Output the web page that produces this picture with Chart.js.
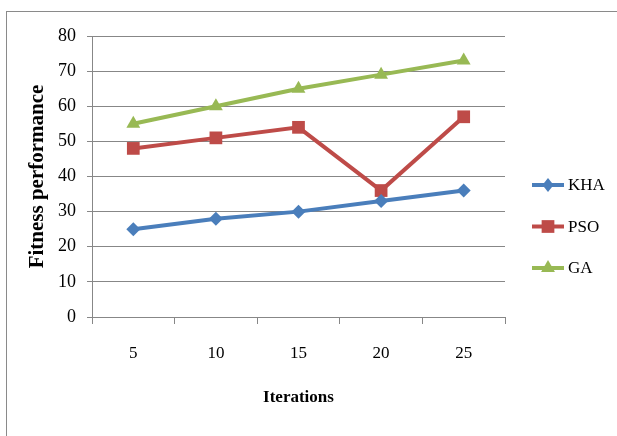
<!DOCTYPE html>
<html>
<head>
<meta charset="utf-8">
<script src="https://cdn.jsdelivr.net/npm/chart.js@4.4.1/dist/chart.umd.min.js"></script>
<style>
  html, body { margin: 0; padding: 0; background: #fff; }
  canvas { display: block; }
</style>
</head>
<body>
<canvas id="c" width="617" height="436"></canvas>
<script>
// Iteration counts on the x axis
const iterations = ['5', '10', '15', '20', '25'];
// Fitness performance per algorithm
const khaValues = [25, 28, 30, 33, 36];
const psoValues = [48, 51, 54, 36, 57];
const gaValues = [55, 60, 65, 69, 73];
// Y axis range and step
const yMin = 0, yMax = 80, yStep = 10;

const SERIF = '"Liberation Serif", "Times New Roman", serif';
const GRID = '#878787';

// white page with a thin grey frame around the figure
const framePlugin = {
  id: 'frame',
  beforeDraw(chart) {
    const ctx = chart.ctx;
    ctx.save();
    ctx.fillStyle = '#fff';
    ctx.fillRect(0, 0, chart.width, chart.height);
    ctx.strokeStyle = '#8a8a8a';
    ctx.lineWidth = 1;
    ctx.strokeRect(6.5, 11.5, chart.width + 20, chart.height + 20);
    ctx.restore();
  }
};

function drawMarker(ctx, style, x, y, r) {
  ctx.beginPath();
  if (style === 'rectRot') {
    ctx.moveTo(x, y - r);
    ctx.lineTo(x + r * 0.8, y);
    ctx.lineTo(x, y + r);
    ctx.lineTo(x - r * 0.8, y);
  } else if (style === 'rect') {
    const s = r * Math.SQRT1_2;
    ctx.rect(x - s, y - s, 2 * s, 2 * s);
  } else {
    const h = r * 1.5;
    ctx.moveTo(x, y - r);
    ctx.lineTo(x + r * 0.87, y + r * 0.5);
    ctx.lineTo(x - r * 0.87, y + r * 0.5);
  }
  ctx.closePath();
  ctx.fill();
}

// legend on the right: line sample with the series marker, then the name
const sideLegend = {
  id: 'sideLegend',
  afterDraw(chart) {
    const ctx = chart.ctx;
    const area = chart.chartArea;
    const x0 = area.right + 27, x1 = area.right + 59;
    ctx.save();
    chart.data.datasets.forEach((ds, i) => {
      const y = 185 + i * 41.5;
      ctx.strokeStyle = ds.borderColor;
      ctx.lineWidth = 4;
      ctx.beginPath();
      ctx.moveTo(x0, y);
      ctx.lineTo(x1, y);
      ctx.stroke();
      ctx.fillStyle = ds.backgroundColor;
      drawMarker(ctx, ds.pointStyle, (x0 + x1) / 2, y, ds.pointRadius);
      ctx.fillStyle = '#000';
      ctx.font = '17px ' + SERIF;
      ctx.textAlign = 'left';
      ctx.textBaseline = 'middle';
      ctx.fillText(ds.label, x1 + 4, y + 1);
    });
    ctx.restore();
  }
};

new Chart(document.getElementById('c'), {
  type: 'line',
  data: {
    labels: iterations,
    datasets: [
      { label: 'KHA', data: khaValues, borderColor: '#4a7ebb', backgroundColor: '#4a7ebb',
        pointStyle: 'rectRot', pointRadius: 7 },
      { label: 'PSO', data: psoValues, borderColor: '#be4b48', backgroundColor: '#be4b48',
        pointStyle: 'rect', pointRadius: 9 },
      { label: 'GA', data: gaValues, borderColor: '#98b954', backgroundColor: '#98b954',
        pointStyle: 'triangle', pointRadius: 8 }
    ].map(d => Object.assign({ borderWidth: 4, tension: 0, pointBorderWidth: 0,
                               pointHoverRadius: d.pointRadius }, d))
  },
  options: {
    responsive: false,
    animation: false,
    events: [],
    layout: { padding: { top: 36, right: 112, bottom: 0, left: 0 } },
    plugins: { legend: { display: false }, tooltip: { enabled: false } },
    scales: {
      x: {
        offset: true,
        grid: { display: true, offset: true, drawOnChartArea: false, drawTicks: true,
                tickLength: 7, color: GRID, lineWidth: 1 },
        border: { display: true, color: GRID, width: 1 },
        ticks: { color: '#000', font: { family: SERIF, size: 17 }, padding: 19 },
        title: { display: true, text: 'Iterations', color: '#000',
                 font: { family: SERIF, size: 17, weight: 'bold' },
                 padding: { top: 0, bottom: 28 } },
        afterFit(s) { s.height = 119; }
      },
      y: {
        min: yMin, max: yMax,
        grid: { color: GRID, lineWidth: 1, tickLength: 5 },
        border: { display: true, color: GRID, width: 1 },
        ticks: { stepSize: yStep, color: '#000', font: { family: SERIF, size: 18 }, padding: 11 },
        title: { display: true, text: 'Fitness performance', color: '#000',
                 font: { family: SERIF, size: 21, weight: 'bold' },
                 padding: { top: 25, bottom: 0 } },
        afterFit(s) { s.width = 92; }
      }
    }
  },
  plugins: [framePlugin, sideLegend]
});
</script>
</body>
</html>
